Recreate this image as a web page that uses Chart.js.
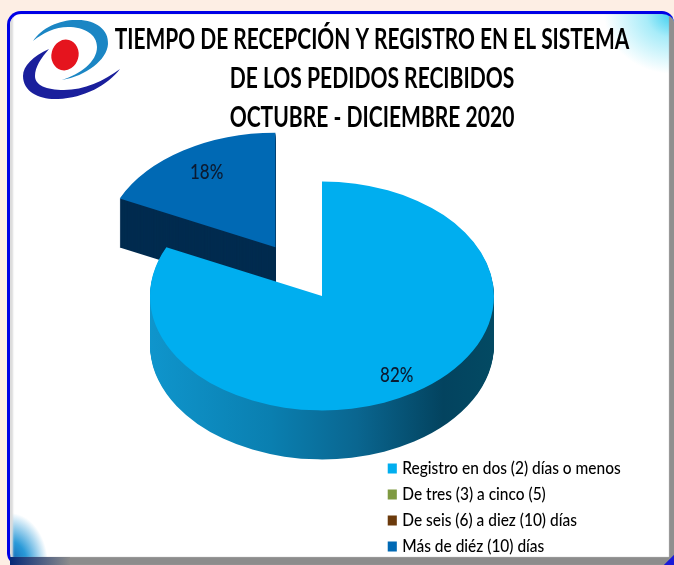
<!DOCTYPE html>
<html>
<head>
<meta charset="utf-8">
<script src="https://cdn.jsdelivr.net/npm/chart.js@4"></script>
<style>
html, body { margin: 0; padding: 0; background: #fdeee4; overflow: hidden; }
#wrap { position: relative; width: 674px; height: 565px; overflow: hidden; }
#frame {
    position: absolute; left: 7px; top: 11px; width: 667px; height: 554px;
    box-sizing: border-box; border-style: solid; border-color: #0000e6; border-width: 3px 0 0 3px;
    border-radius: 14px 12px 0 12px; overflow: hidden;
    background:
        radial-gradient(ellipse 70px 60px at 100% 0, #35cdf0 0, #a8ecf9 40%, rgba(255,255,255,0) 100%),
        radial-gradient(ellipse 38px 52px at 0 100%, #0a5fb0 0, #2a9ad8 45%, rgba(255,255,255,0) 100%),
        #fff;
}
#frame:after {
    content: ""; position: absolute; left: 0; top: 0; right: 0; bottom: 0;
    box-shadow: inset 4px 0 2px -1px #dcdcdc, inset -5px 0 1px 0 #8f8f8f, inset 0 -8px 1px 0 #8c8c8c;
}
#band { position: absolute; left: 10px; top: 557px; width: 60px; height: 8px; background: linear-gradient(90deg, #052a78, #8c8c8c); }
#notch { position: absolute; left: 662px; top: 553px; width: 12px; height: 12px; background: linear-gradient(135deg, transparent 55%, #1a1ad8 60%); }
#logo { position: absolute; left: 20px; top: 16px; }
canvas { position: absolute; left: 0; top: 0; }
</style>
</head>
<body>
<div id="wrap">
    <div id="frame"></div>
    <div id="band"></div>
    <div id="notch"></div>
    <svg id="logo" width="105" height="90" viewBox="20 16 105 90">
        <path d="M33 41 C42 27 62 19 78 20 C96 20 109 30 108 44 C107 60 86 76 62 80 C80 74 97 62 97 47 C97 34 84 27 68 27 C55 27 43 33 33 41 Z" fill="#1b86c4"/>
        <path d="M49 49 C33 56 23 66 23 76 C23 92 40 100 58 99 C84 98 108 85 120 69 C104 81 84 90 64 90 C46 90 35 85 35 76 C35 67 41 58 49 49 Z" fill="#1a1f9c"/>
        <ellipse cx="65" cy="55" rx="13.5" ry="15.5" transform="rotate(15 65 55)" fill="#e5141e"/>
    </svg>
    <canvas id="myChartCanvas" width="674" height="565"></canvas>
</div>
<script>
var titleLines = ['TIEMPO DE RECEPCIÓN Y REGISTRO EN EL SISTEMA', 'DE LOS PEDIDOS RECIBIDOS', 'OCTUBRE - DICIEMBRE 2020'];
var categories = ['Registro en dos (2) días o menos', 'De tres (3) a cinco (5)', 'De seis (6) a diez (10) días', 'Más de diéz (10) días'];
var values = [82, 0, 0, 18];
var percentLabels = ['82%', '', '', '18%'];
var topColors = ['#00aeef', '#7f9a41', '#6b3a0c', '#0069b4'];
var pulledOut = [0, 0, 0, 87];
var labelNudge = [1, 0, 0, 5];

var tilt = 0.665;
var depth = 49;

// the original font is narrower than anything installed, so Lato gets squeezed sideways
function squeeze(box, sx, x0) {
    if (box.squeezed) return;
    box.squeezed = true;
    var draw = box.draw;
    box.draw = function () {
        var c = box.ctx;
        c.save();
        c.translate(x0, 0);
        c.scale(sx, 1);
        c.translate(-x0, 0);
        draw.apply(box, arguments);
        c.restore();
    };
}

var pie3d = {
    id: 'pie3d',
    afterLayout: function (chart) {
        // title and legend sit where the picture has them, the pie keeps its own centre
        var t = chart.titleBlock, l = chart.legend;
        squeeze(t, 0.752, 372);
        squeeze(l, 0.91, 390);
        t.left = 30; t.right = 714; t.top = 20; t.bottom = 143;
        l.left = 381; l.right = 681; l.top = 451; l.bottom = 575;
        chart.chartArea = { left: 0, top: 27, right: 644, bottom: 565, width: 644, height: 538 };
    },
    beforeDatasetDraw: function (chart, args) {
        var ctx = chart.ctx;
        var arcs = args.meta.data;
        var cy = arcs[0].y;
        var grad = ctx.createLinearGradient(150, 0, 495, 0);
        grad.addColorStop(0, '#0f95cc');
        grad.addColorStop(0.35, '#0a7fb0');
        grad.addColorStop(0.6, '#0a6690');
        grad.addColorStop(0.85, '#03435f');
        grad.addColorStop(1, '#034a63');
        var sideColors = [grad, grad, grad, '#002b4f'];
        function drawArc(arc, i, d) {
            var mid = (arc.startAngle + arc.endAngle) / 2;
            ctx.save();
            ctx.translate(Math.cos(mid) * pulledOut[i], cy + d + Math.sin(mid) * pulledOut[i] * tilt);
            ctx.scale(1, tilt);
            ctx.translate(0, -cy);
            arc.draw(ctx);
            ctx.restore();
        }
        [3, 0].forEach(function (i) {
            var arc = arcs[i];
            var opts = arc.options;
            arc.options = Object.assign({}, opts, { backgroundColor: sideColors[i] });
            for (var d = depth; d > 0; d--) {
                drawArc(arc, i, d);
            }
            arc.options = opts;
            drawArc(arc, i, 0);
        });
        return false;
    },
    afterDatasetsDraw: function (chart) {
        var ctx = chart.ctx;
        var arcs = chart.getDatasetMeta(0).data;
        arcs.forEach(function (arc, i) {
            if (!percentLabels[i]) return;
            var mid = (arc.startAngle + arc.endAngle) / 2;
            var r = arc.outerRadius * 0.8 + pulledOut[i];
            ctx.save();
            ctx.translate(arc.x + Math.cos(mid) * r + labelNudge[i], arc.y + Math.sin(mid) * r * tilt + 2);
            ctx.scale(0.77, 1);
            ctx.fillStyle = '#0b1a30';
            ctx.font = '500 22px Lato';
            ctx.textAlign = 'center';
            ctx.textBaseline = 'middle';
            ctx.fillText(percentLabels[i], 0, 0);
            ctx.restore();
        });
    }
};

var ctx = document.getElementById('myChartCanvas').getContext('2d');

var myChart = new Chart(ctx, {
    type: 'pie',
    plugins: [pie3d],
    data: {
        labels: categories,
        datasets: [{
            data: values,
            backgroundColor: topColors,
            borderWidth: 0,
            clip: false
        }]
    },
    options: {
        responsive: false,
        animation: false,
        radius: 172,
        plugins: {
            tooltip: { enabled: false },
            title: {
                display: true,
                text: titleLines,
                color: '#000',
                font: { family: 'Lato', size: 28, weight: 'bold', lineHeight: 1.4 },
                padding: 0
            },
            legend: {
                position: 'right',
                align: 'start',
                labels: {
                    color: '#000',
                    font: { family: 'Lato', size: 17, weight: '500' },
                    boxWidth: 5,
                    boxHeight: 5,
                    padding: 9,
                    generateLabels: function () {
                        return categories.map(function (c, i) {
                            return { text: c, fillStyle: topColors[i], strokeStyle: topColors[i], lineWidth: 5, hidden: false, index: i };
                        });
                    }
                }
            }
        }
    }
});
</script>
</body>
</html>
